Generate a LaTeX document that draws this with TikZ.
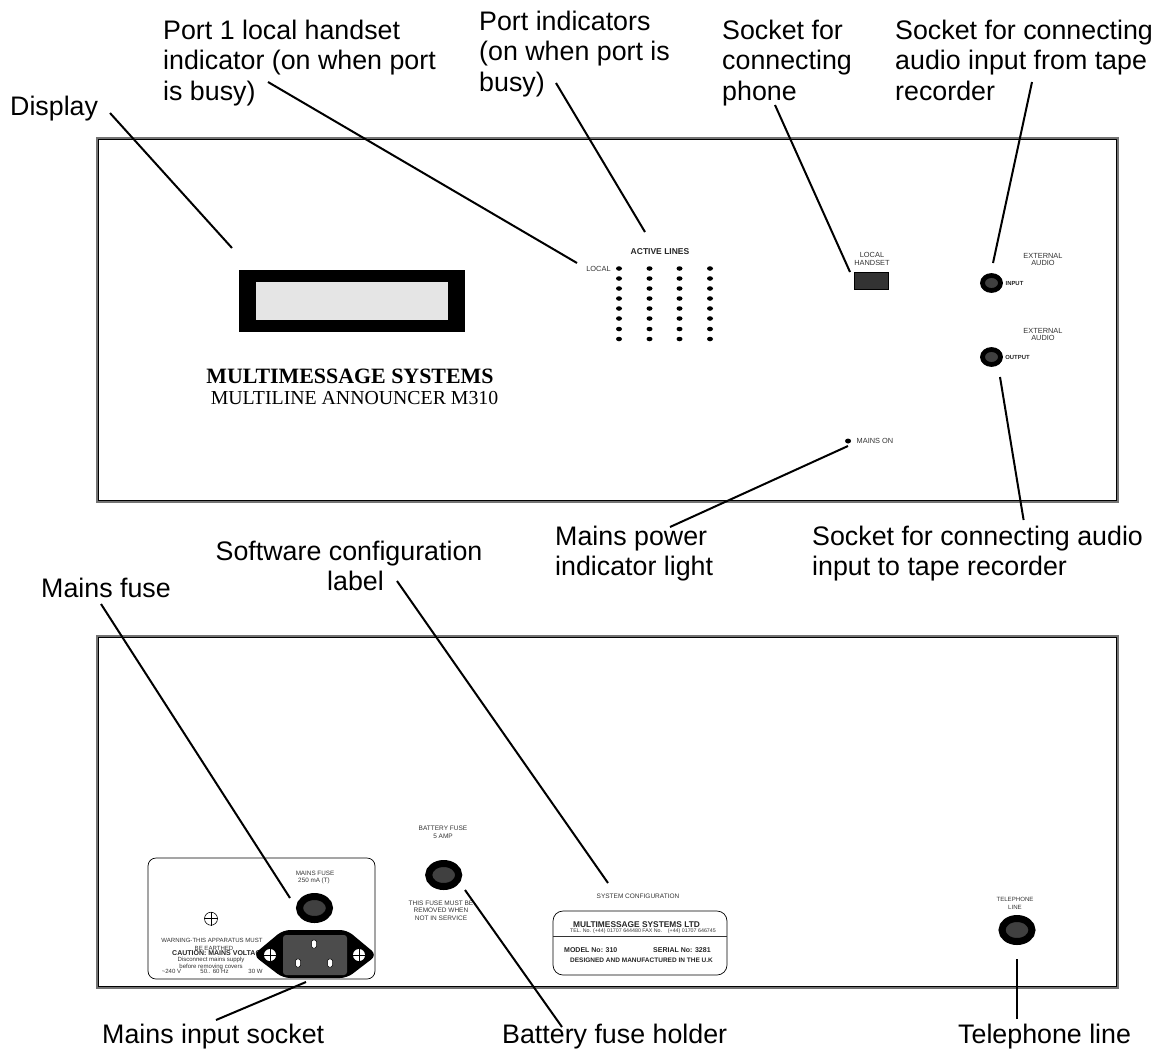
\documentclass[tikz,border=0pt]{standalone}
\usepackage{fontspec}
\setmainfont{Liberation Sans}
\newfontfamily\timesfont{Liberation Serif}
\usetikzlibrary{shapes.geometric}
\begin{document}
\begin{tikzpicture}[x=1pt,y=-1pt,
    call node/.style={inner sep=0pt,align=left,anchor=north west,font=\fontsize{26.8}{30.5}\selectfont},
    tiny node/.style={inner sep=0pt,text=black!80,font=\fontsize{7.4}{7.8}\selectfont},
    plate node/.style={inner sep=0pt,text=black!80,font=\fontsize{6.05}{7}\selectfont},
    fuse node/.style={inner sep=0pt,text=black!80,font=\fontsize{6.5}{7}\selectfont},
    tiny bold/.style={inner sep=0pt,text=black!85,font=\fontsize{7}{8}\selectfont\bfseries},
    jack/.style={ellipse,draw=black,line width=4.75pt,fill=black!75,minimum width=18pt,minimum height=15pt,inner sep=0pt},
    big jack/.style={ellipse,draw=black,line width=7pt,fill=black!75,minimum width=30pt,minimum height=23pt,inner sep=0pt},
    lamp/.style={ellipse,fill=black,minimum width=6pt,minimum height=4.5pt,inner sep=0pt},
    leader/.style={draw,line width=2pt},
    pin/.style={rounded corners=1.5pt,fill=white,draw=black,line width=.5pt}]
    \useasboundingbox (0,0) rectangle (1162,1050);

    \foreach \top/\bot in {138/502,636/988} {
        \draw[black!55,line width=2pt] (97,\top) rectangle (1118,\bot);
        \draw[black,line width=.5pt] (98.5,\top+1.5) rectangle (1116.5,\bot-1.5);
    }

    \node[fill=black,minimum width=226pt,minimum height=62pt,inner sep=0pt] at (352,301) (display) {};
    \node[fill=black!10,minimum width=192pt,minimum height=38pt,inner sep=0pt] at (352,301) (screen) {};
    \node[inner sep=0pt,font=\timesfont\fontsize{21.9}{24}\selectfont\bfseries] at (350,376.5) (brand) {MULTIMESSAGE SYSTEMS};
    \node[inner sep=0pt,font=\timesfont\fontsize{19.8}{22}\selectfont] at (354.5,398.5) (model) {MULTILINE ANNOUNCER M310};

    \node[tiny bold,font=\fontsize{8.5}{9}\selectfont\bfseries] at (660,252) (active) {ACTIVE LINES};
    \node[tiny node] at (598.5,268.5) (local) {LOCAL};
    \foreach \xpos in {619,649.5,679.5,710}
        \foreach \ypos in {268.5,278.5,288.5,298.5,308.5,318.5,329,339}
            \node[lamp] at (\xpos,\ypos) {};

    \node[tiny node,align=center] at (872,259) (handsettext) {LOCAL\\HANDSET};
    \node[fill=black!80,draw=black,line width=.8pt,minimum width=34pt,minimum height=17pt,inner sep=0pt] at (871,281) (handset) {};

    \node[tiny node,align=center] at (1043,259.5) (exttop) {EXTERNAL\\AUDIO};
    \node[jack] at (991.5,283) (input) {};
    \node[tiny bold,font=\fontsize{5.9}{7}\selectfont\bfseries] at (1014.5,283.5) (inputtext) {INPUT};
    \node[tiny node,align=center] at (1043,334.5) (extbot) {EXTERNAL\\AUDIO};
    \node[jack] at (991.5,357) (output) {};
    \node[tiny bold,font=\fontsize{5.9}{7}\selectfont\bfseries] at (1017.5,357.5) (outputtext) {OUTPUT};

    \node[lamp,minimum height=5pt] at (848,441) (mains) {};
    \node[tiny node] at (875,441) (mainstext) {MAINS ON};

    \draw[black,line width=.7pt,rounded corners=8pt] (148,858) rectangle (375,979);
    \node[plate node,font=\fontsize{6.3}{7}\selectfont] at (315,873.5) (fusetext) {MAINS FUSE};
    \node[plate node,font=\fontsize{6.3}{7}\selectfont] at (314,881) (fuseval) {250 mA (T)};
    \node[big jack] at (314.5,908) (fuse) {};
    \node[circle,draw=black,line width=.6pt,minimum size=13pt,inner sep=0pt] at (211,918.7) (earth) {};
    \draw[line width=.5pt] (earth.west) -- (earth.east) (earth.north) -- (earth.south);
    \node[plate node] at (212,940.7) (warnone) {WARNING-THIS APPARATUS MUST};
    \node[plate node] at (214,948) (warntwo) {BE EARTHED};
    \node[tiny bold,anchor=west] at (172,953.5) (caution) {CAUTION: MAINS VOLTAGE};
    \node[plate node] at (211,960) (discone) {Disconnect mains supply};
    \node[plate node] at (211,966.7) (disctwo) {before removing covers};
    \node[plate node] at (171.5,971.3) (volts) {\textasciitilde 240 V};
    \node[plate node] at (214.5,971.3) (hertz) {50.. 60 Hz};
    \node[plate node] at (255.5,971.3) (watts) {30 W};

    \fill[black,rounded corners=7pt] (253,955) -- (283,930) -- (347,930) -- (377,955) -- (347,978) -- (283,978) -- cycle;
    \node[fill=black!70,rounded corners=3pt,minimum width=64pt,minimum height=40pt,inner sep=0pt] at (315,955) (socket) {};
    \draw[pin] (311.5,940) rectangle (316.5,948);
    \draw[pin] (295.5,959) rectangle (300.5,967);
    \draw[pin] (327.5,959) rectangle (332.5,967);
    \foreach \xpos/\sname in {270/screwa,359/screwb} {
        \node[circle,fill=white,minimum size=12pt,inner sep=0pt] at (\xpos,955) (\sname) {};
        \draw[line width=.7pt] (\sname.west) -- (\sname.east) (\sname.north) -- (\sname.south);
    }

    \node[fuse node] at (443,828) (batterytext) {BATTERY FUSE};
    \node[fuse node] at (443,836) (batteryval) {5 AMP};
    \node[big jack] at (443.7,875) (battery) {};
    \node[fuse node] at (441,903) (thisfuse) {THIS FUSE MUST BE};
    \node[fuse node] at (441,910.5) (removed) {REMOVED WHEN};
    \node[fuse node] at (441,918) (service) {NOT IN SERVICE};

    \node[fuse node] at (638,896) (systext) {SYSTEM CONFIGURATION};
    \draw[black,line width=.7pt,rounded corners=10pt] (553,911) rectangle (727,975);
    \draw[black!80,line width=.7pt] (553,936) -- (727,936);
    \node[tiny bold,font=\fontsize{8.35}{10}\selectfont\bfseries] at (636.5,925) (company) {MULTIMESSAGE SYSTEMS LTD};
    \node[plate node,anchor=west,font=\fontsize{5.3}{7}\selectfont] at (570,931.5) (telno) {TEL. No. (+44) 01707 644480 FAX No.};
    \node[plate node,anchor=east,font=\fontsize{5.3}{7}\selectfont] at (716,931.5) (faxno) {(+44) 01707 646745};
    \node[tiny bold,anchor=west] at (564,950) (modelno) {MODEL No: 310};
    \node[tiny bold,anchor=west] at (653,950) (serialno) {SERIAL No: 3281};
    \node[tiny bold,anchor=west,font=\fontsize{6.5}{8}\selectfont\bfseries] at (570,960.7) (designed) {DESIGNED AND MANUFACTURED IN THE U.K};

    \node[plate node,align=center,font=\fontsize{6.1}{7.4}\selectfont] at (1015,903.5) (teltext) {TELEPHONE\\LINE};
    \node[big jack] at (1017,930) (telephone) {};

    \node[call node] at (10,95.5) (lbldisplay) {Display};
    \node[call node] at (163,19.5) (lblport) {Port 1 local handset\\indicator (on when port\\is busy)};
    \node[call node] at (479,10.5) (lblind) {Port indicators\\(on when port is\\busy)};
    \node[call node] at (722,19.5) (lblphone) {Socket for\\connecting\\phone};
    \node[call node] at (895,19.5) (lblin) {Socket for connecting\\audio input from tape\\recorder};
    \node[call node] at (555,525.5) (lblmains) {Mains power\\indicator light};
    \node[call node] at (812,525.5) (lblout) {Socket for connecting audio\\input to tape recorder};
    \node[call node,align=center] at (215.5,540.5) (lblsoft) {Software configuration\\\hspace*{13pt}label};
    \node[call node] at (41,577.5) (lblfuse) {Mains fuse};
    \node[call node] at (102,1023.5) (lblinput) {Mains input socket};
    \node[call node] at (502,1023.5) (lblbattery) {Battery fuse holder};
    \node[call node] at (958,1023.5) (lblline) {Telephone line};

    \coordinate (enddisplay) at (232,248);
    \coordinate (endport) at (577,263);
    \coordinate (endind) at (645,232);
    \coordinate (endphone) at (850,272);
    \coordinate (endin) at (993,263);
    \coordinate (endout) at (1000,377);
    \coordinate (endmains) at (848,446);
    \coordinate (endsoft) at (608,883);
    \coordinate (endfuse) at (290,898);
    \coordinate (endinput) at (306,982);
    \coordinate (endbattery) at (465,890);
    \coordinate (endline) at (1016.5,959);

    \path[leader]
        ([shift={(100,17.5)}]lbldisplay.north west) edge (enddisplay)
        ([shift={(105,62.5)}]lblport.north west) edge (endport)
        ([shift={(77,72.5)}]lblind.north west) edge (endind)
        ([shift={(53,85.5)}]lblphone.north west) edge (endphone)
        ([shift={(137,62.5)}]lblin.north west) edge (endin)
        ([shift={(211.6,-5.5)}]lblout.north west) edge (endout)
        ([shift={(115,1.5)}]lblmains.north west) edge (endmains)
        ([shift={(181.5,40.5)}]lblsoft.north west) edge (endsoft)
        ([shift={(60,26.5)}]lblfuse.north west) edge (endfuse)
        ([shift={(114,-3.5)}]lblinput.north west) edge (endinput)
        ([shift={(60,3.5)}]lblbattery.north west) edge (endbattery)
        ([shift={(58.5,-4.5)}]lblline.north west) edge (endline);
\end{tikzpicture}
\end{document}
